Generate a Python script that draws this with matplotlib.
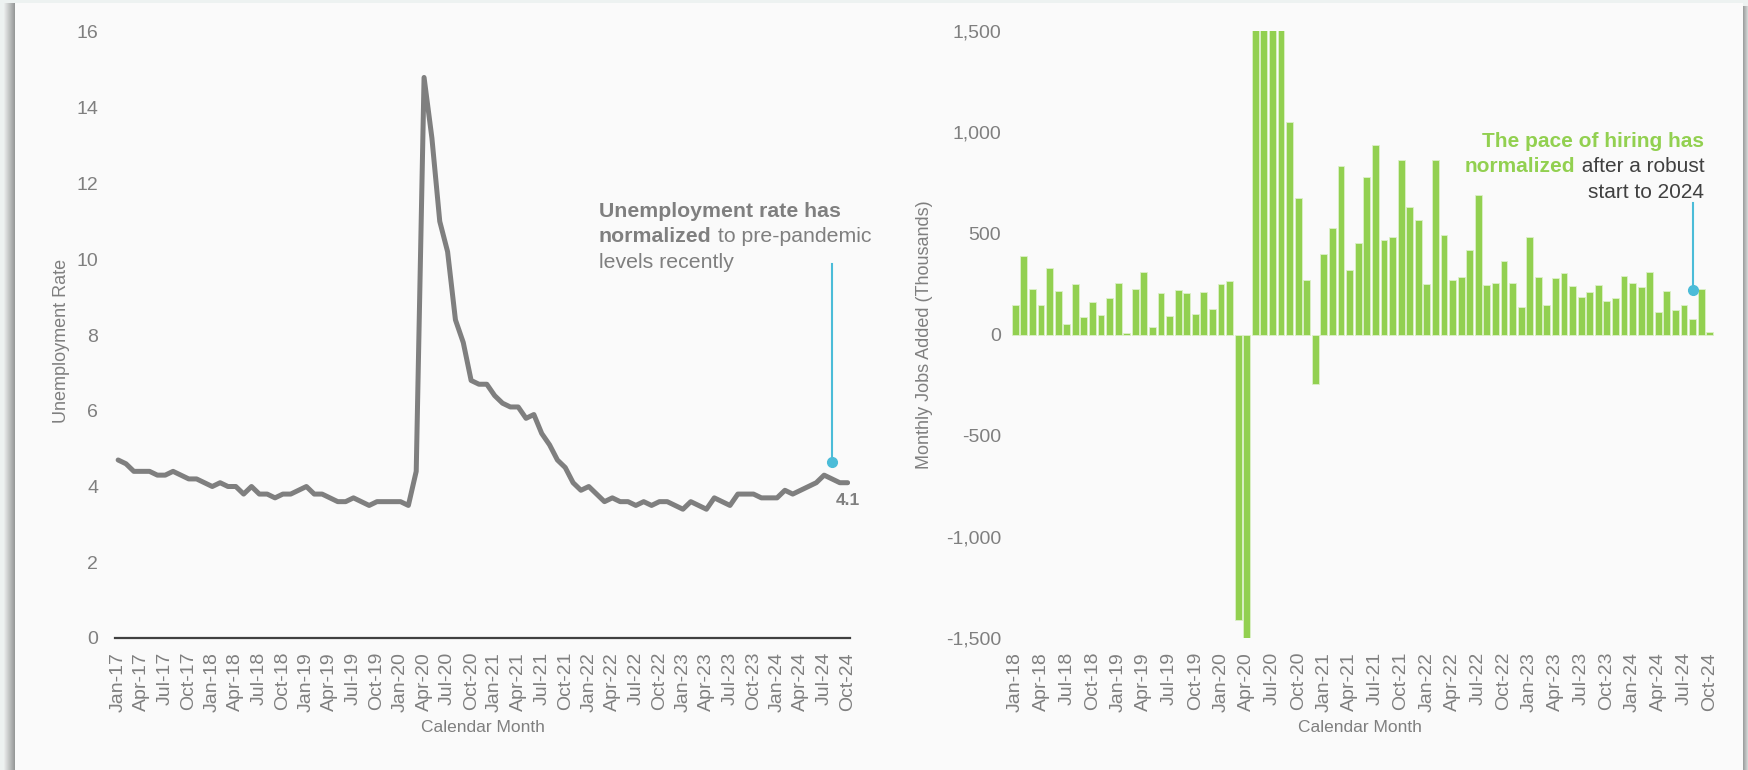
import matplotlib
matplotlib.use("Agg")
import matplotlib.pyplot as plt
from matplotlib.patches import Rectangle
import numpy as np

plt.rcParams["font.family"] = ["Liberation Sans", "DejaVu Sans"]

# --- dados ---
meses_desemprego = [f"{m}-{a}" for a in range(17, 25) for m in
                    ["Jan", "Feb", "Mar", "Apr", "May", "Jun", "Jul", "Aug", "Sep", "Oct", "Nov", "Dec"]][:94]
taxa_desemprego = [
    4.7, 4.6, 4.4, 4.4, 4.4, 4.3, 4.3, 4.4, 4.3, 4.2, 4.2, 4.1,
    4.0, 4.1, 4.0, 4.0, 3.8, 4.0, 3.8, 3.8, 3.7, 3.8, 3.8, 3.9,
    4.0, 3.8, 3.8, 3.7, 3.6, 3.6, 3.7, 3.6, 3.5, 3.6, 3.6, 3.6,
    3.6, 3.5, 4.4, 14.8, 13.2, 11.0, 10.2, 8.4, 7.8, 6.8, 6.7, 6.7,
    6.4, 6.2, 6.1, 6.1, 5.8, 5.9, 5.4, 5.1, 4.7, 4.5, 4.1, 3.9,
    4.0, 3.8, 3.6, 3.7, 3.6, 3.6, 3.5, 3.6, 3.5, 3.6, 3.6, 3.5,
    3.4, 3.6, 3.5, 3.4, 3.7, 3.6, 3.5, 3.8, 3.8, 3.8, 3.7, 3.7,
    3.7, 3.9, 3.8, 3.9, 4.0, 4.1, 4.3, 4.2, 4.1, 4.1,
]

meses_empregos = meses_desemprego[12:]
empregos_mes = [
    147, 386, 226, 147, 328, 213, 54, 251, 86, 163, 97, 180,
    257, 5, 226, 307, 36, 203, 89, 219, 203, 99, 208, 124,
    252, 262, -1410, -20480, 2720, 4580, 1730, 1530, 1048, 673, 267, -244,
    398, 528, 832, 318, 450, 779, 939, 465, 480, 860, 632, 564,
    252, 863, 493, 271, 285, 419, 690, 243, 256, 361, 257, 134,
    482, 285, 145, 277, 302, 239, 185, 210, 246, 165, 182, 290,
    256, 236, 310, 109, 216, 119, 144, 79, 223, 12,
]

CINZA = "#7f7f7f"
ESCURO = "#404040"
VERDE = "#92d050"
CIANO = "#4bbcd8"

W, H = 1749, 770
fig = plt.figure(figsize=(W / 100, H / 100), dpi=100, facecolor="#edf2f1")

# painel com sombra (atrás dos eixos)
for i in range(11):
    c = 0.91 - i * 0.032
    fig.add_artist(Rectangle(((4 + i) / W, 0), 1 / W, 1 - 3 / H, transform=fig.transFigure,
                             color=(c, c + 0.01, c + 0.008), lw=0, zorder=-10))
for i in range(6):
    c = 0.62 + i * 0.05
    fig.add_artist(Rectangle(((1743 + i) / W, 0), 1 / W, 1 - 6 / H, transform=fig.transFigure,
                             color=(c, c + 0.01, c + 0.008), lw=0, zorder=-10))
fig.add_artist(Rectangle((15 / W, 0), 1728 / W, 1 - 3 / H, transform=fig.transFigure,
                         color="#fafafa", lw=0, zorder=-10))

# --- Gráfico 1: taxa de desemprego ---
ax1 = fig.add_axes([115 / W, 132 / H, 735 / W, 606 / H])
ax1.patch.set_alpha(0)
x1 = np.arange(len(taxa_desemprego))
ax1.plot(x1, taxa_desemprego, color=CINZA, lw=3.6, solid_joinstyle="round", solid_capstyle="round")
ax1.set_xlim(-0.4, 93.3)
ax1.set_ylim(0, 16)
ax1.set_yticks(range(0, 17, 2))
ax1.set_xticks(x1[::3])
ax1.set_xticklabels(meses_desemprego[::3], rotation=90)
for s in ["top", "right", "left"]:
    ax1.spines[s].set_visible(False)
ax1.spines["bottom"].set_color(ESCURO)
ax1.spines["bottom"].set_linewidth(1.6)
ax1.tick_params(axis="both", length=0, labelsize=14, labelcolor=CINZA)
ax1.tick_params(axis="y", pad=12)
ax1.tick_params(axis="x", pad=10)
ax1.set_ylabel("Unemployment Rate", fontsize=13, color=CINZA)
ax1.yaxis.set_label_coords(-0.061, 0.49)
ax1.set_xlabel("Calendar Month", fontsize=12.5, color=CINZA, va="center")
ax1.xaxis.set_label_coords(0.5, -0.147)

ax1.annotate(f"{taxa_desemprego[-1]:.1f}", xy=(x1[-1], taxa_desemprego[-1]), xytext=(0, -13),
             textcoords="offset points", ha="center", va="center",
             fontsize=12.5, fontweight="bold", color=CINZA)

ax1.plot([91, 91], [4.65, 9.87], color=CIANO, lw=1.5)
ax1.plot([91], [4.65], "o", color=CIANO, ms=7)

ax1.text(61.3, 11.27, "Unemployment rate has", fontsize=15.3, fontweight="bold", color=CINZA,
         ha="left", va="center")
t1 = ax1.text(61.3, 10.59, "normalized", fontsize=15.3, fontweight="bold", color=CINZA,
              ha="left", va="center")
ax1.annotate(" to pre-pandemic", xy=(1, 0.5), xycoords=t1, fontsize=15.3, color=CINZA,
             ha="left", va="center")
ax1.text(61.3, 9.92, "levels recently", fontsize=15.3, color=CINZA, ha="left", va="center")

# --- Gráfico 2: empregos criados por mês ---
ax2 = fig.add_axes([1011 / W, 132 / H, 703 / W, 607 / H])
ax2.patch.set_alpha(0)
x2 = np.arange(len(empregos_mes))
ax2.bar(x2, empregos_mes, width=0.8, color=VERDE, edgecolor="#dcf0c8", linewidth=0.6)
ax2.set_xlim(-0.5, len(empregos_mes) - 0.5)
ax2.set_ylim(-1500, 1500)
yt = range(-1500, 1501, 500)
ax2.set_yticks(yt)
ax2.set_yticklabels([f"{v:,}" for v in yt])
ax2.set_xticks(x2[::3])
ax2.set_xticklabels(meses_empregos[::3], rotation=90)
for s in ["top", "right", "left", "bottom"]:
    ax2.spines[s].set_visible(False)
ax2.tick_params(axis="both", length=0, labelsize=14, labelcolor=CINZA)
ax2.tick_params(axis="y", pad=7)
ax2.tick_params(axis="x", pad=10)
ax2.set_ylabel("Monthly Jobs Added (Thousands)", fontsize=13, color=CINZA)
ax2.yaxis.set_label_coords(-0.111, 0.5)
ax2.set_xlabel("Calendar Month", fontsize=12.5, color=CINZA, va="center")
ax2.xaxis.set_label_coords(0.496, -0.147)

ax2.plot([79, 79], [218, 648], color=CIANO, lw=1.5)
ax2.plot([79], [218], "o", color=CIANO, ms=7)

ax2.text(80.35, 952, "The pace of hiring has", fontsize=15, fontweight="bold", color=VERDE,
         ha="right", va="center")
t2 = ax2.text(80.35, 828, " after a robust", fontsize=15, color=ESCURO, ha="right", va="center")
ax2.annotate("normalized", xy=(0, 0.5), xycoords=t2, fontsize=15, fontweight="bold", color=VERDE,
             ha="right", va="center")
ax2.text(80.35, 704, "start to 2024", fontsize=15, color=ESCURO, ha="right", va="center")

fig.savefig("out.png", dpi=100, facecolor=fig.get_facecolor())
